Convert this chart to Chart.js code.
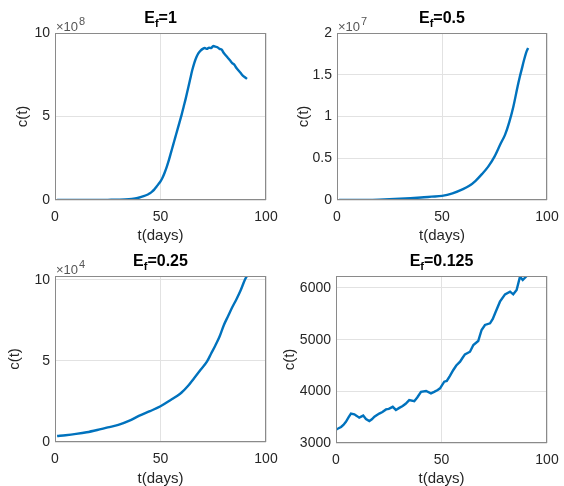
<!DOCTYPE html>
<html>
<head>
<meta charset="utf-8">
<script src="https://cdn.jsdelivr.net/npm/chart.js@4.4.1/dist/chart.umd.min.js"></script>
<style>
  html, body { margin: 0; padding: 0; background: #fff; }
  #wrap { position: relative; width: 564px; height: 486px; overflow: hidden; }
  canvas { position: absolute; }
</style>
</head>
<body>
<div id="wrap">
  <canvas id="p1" width="282" height="243" style="left:0;top:0"></canvas>
  <canvas id="p2" width="282" height="243" style="left:282px;top:0"></canvas>
  <canvas id="p3" width="282" height="243" style="left:0;top:243px"></canvas>
  <canvas id="p4" width="282" height="243" style="left:282px;top:243px"></canvas>
</div>
<script>
// ---------------- DATA ----------------
const xTicks = [0, 50, 100];

// Panel 1: E_f = 1, values in units of 1e8
const t1 = [1, 5, 10, 15, 20, 25, 30, 35, 38, 40, 42, 44, 45, 46, 47, 48, 49, 50, 51, 52, 53, 54, 55, 56, 57, 58, 59, 60, 61, 62, 63, 64, 65, 66, 67, 68, 69, 70, 71, 72, 73, 74, 75, 76, 77, 78, 79, 80, 81, 82, 83, 84, 85, 86, 87, 88, 89, 90, 91];
const c1 = [0.0, 0.0, 0.0, 0.0, 0.0, 0.01, 0.02, 0.05, 0.1, 0.15, 0.23, 0.33, 0.4, 0.5, 0.62, 0.78, 0.95, 1.12, 1.35, 1.65, 2.0, 2.4, 2.85, 3.3, 3.75, 4.2, 4.65, 5.1, 5.6, 6.1, 6.65, 7.2, 7.75, 8.2, 8.55, 8.8, 8.95, 9.05, 9.1, 9.05, 9.12, 9.1, 9.22, 9.18, 9.15, 9.05, 9.0, 8.8, 8.65, 8.5, 8.35, 8.2, 8.1, 7.9, 7.75, 7.6, 7.45, 7.35, 7.25];
const yTicks1 = [0, 5, 10];

// Panel 2: E_f = 0.5, values in units of 1e7
const t2 = [1, 10, 20, 30, 40, 45, 50, 55, 60, 63, 66, 69, 72, 75, 78, 80, 82, 84, 86, 87, 88, 89, 90, 91];
const c2 = [0.0, 0.0, 0.005, 0.015, 0.03, 0.04, 0.05, 0.08, 0.13, 0.17, 0.23, 0.31, 0.4, 0.52, 0.68, 0.78, 0.93, 1.12, 1.36, 1.47, 1.57, 1.67, 1.76, 1.82];
const yTicks2 = [0, 0.5, 1, 1.5, 2];

// Panel 3: E_f = 0.25, values in units of 1e4
const t3 = [1, 5, 10, 15, 20, 25, 30, 35, 40, 45, 50, 55, 58, 60, 63, 66, 69, 72, 74, 76, 78, 80, 82, 84, 86, 88, 90, 91];
const c3 = [0.37, 0.42, 0.5, 0.6, 0.74, 0.9, 1.05, 1.3, 1.62, 1.9, 2.2, 2.6, 2.85, 3.05, 3.45, 3.95, 4.45, 4.95, 5.45, 5.95, 6.5, 7.2, 7.75, 8.3, 8.8, 9.35, 10.0, 10.23];
const yTicks3 = [0, 5, 10];

// Panel 4: E_f = 0.125, raw values
const t4 = [0, 1, 2.4, 3.5, 4.7, 6, 7.1, 8.7, 10, 11, 12.9, 14.2, 15.8, 17, 18.2, 20.5, 22, 23.7, 25, 26.9, 28.4, 30, 31.6, 33, 34.7, 37.1, 38.5, 40.3, 42.7, 45, 46.5, 48.2, 49.3, 51.3, 52.5, 54, 55.6, 57, 58.8, 60, 61.1, 63.5, 65.1, 67.4, 69, 70.6, 73, 74.3, 75.4, 77.7, 80.1, 82.5, 84, 85.6, 87.2, 88.5, 90.4];
const c4 = [3260, 3280, 3310, 3350, 3410, 3500, 3570, 3555, 3520, 3490, 3530, 3465, 3426, 3460, 3510, 3570, 3600, 3650, 3660, 3700, 3640, 3680, 3716, 3760, 3830, 3810, 3880, 3990, 4006, 3961, 3990, 4026, 4058, 4187, 4200, 4300, 4413, 4500, 4574, 4650, 4716, 4767, 4897, 4974, 5187, 5284, 5316, 5400, 5510, 5735, 5877, 5929, 5877, 5961, 6220, 6155, 6232];
const yTicks4 = [3000, 4000, 5000, 6000];

// ---------------- RENDER ----------------
const FONT = "'Liberation Sans', Arial, Helvetica, sans-serif";
const LINE = '#0072BD';

const decoPlugin = {
  id: 'deco',
  afterDraw(chart, args, o) {
    const ctx = chart.ctx;
    const a = chart.chartArea;
    ctx.save();
    // box
    ctx.strokeStyle = '#8a8a8a';
    ctx.lineWidth = 1;
    ctx.strokeRect(Math.round(a.left) + 0.5, Math.round(a.top) + 0.5, Math.round(a.right - a.left) - 1, Math.round(a.bottom - a.top) - 1);
    // title with subscript
    const [main, sub, rest] = o.title;
    ctx.fillStyle = '#000';
    ctx.textBaseline = 'alphabetic';
    ctx.textAlign = 'left';
    const fMain = 'bold 16px ' + FONT, fSub = 'bold 11px ' + FONT;
    ctx.font = fMain; const w1 = ctx.measureText(main).width; const w3 = ctx.measureText(rest).width;
    ctx.font = fSub; const w2 = ctx.measureText(sub).width;
    const total = w1 + w2 + w3;
    let x = (a.left + a.right) / 2 - total / 2;
    const by = a.top - 10;
    ctx.font = fMain; ctx.fillText(main, x, by); x += w1;
    ctx.font = fSub; ctx.fillText(sub, x, by + 4); x += w2;
    ctx.font = fMain; ctx.fillText(rest, x, by);
    // exponent
    if (o.exp) {
      ctx.fillStyle = '#555';
      ctx.font = '13px ' + FONT;
      const ex = a.left + 1, ey = a.top - 2;
      ctx.fillText('\u00d710', ex, ey);
      const wx = ctx.measureText('\u00d710').width;
      ctx.font = '11px ' + FONT;
      ctx.fillText(o.exp, ex + wx + 1, ey - 6);
    }
    ctx.restore();
  }
};

function makePanel(id, t, c, yTicks, yMin, yMax, deco, lay, smooth) {
  const pts = t.map((v, i) => ({ x: v, y: c[i] }));
  new Chart(document.getElementById(id), {
    type: 'line',
    data: { datasets: [{ data: pts, borderColor: LINE, borderWidth: 2.4, pointRadius: 0, fill: false,
      tension: smooth ? 0.4 : 0, cubicInterpolationMode: smooth ? 'monotone' : 'default' }] },
    options: {
      responsive: false, animation: false,
      layout: { padding: { top: lay.top, right: lay.right, left: 0, bottom: 0 } },
      plugins: { legend: { display: false }, tooltip: { enabled: false }, deco: deco },
      scales: {
        x: {
          type: 'linear', min: 0, max: 100,
          afterBuildTicks: s => { s.ticks = xTicks.map(v => ({ value: v })); },
          afterFit: s => { s.height = lay.xh; s.paddingLeft = 0; s.paddingRight = 0; },
          grid: { color: '#e2e2e2', drawTicks: false },
          border: { display: false },
          ticks: { color: '#262626', font: { family: FONT, size: 14 }, padding: 9, maxRotation: 0, callback: v => String(v) },
          title: { display: true, text: 't(days)', color: '#262626', font: { family: FONT, size: 15, lineHeight: 1 }, padding: { top: 0, bottom: 0 } }
        },
        y: {
          type: 'linear', min: yMin, max: yMax,
          afterBuildTicks: s => { s.ticks = yTicks.map(v => ({ value: v })); },
          afterFit: s => { s.width = lay.yw; s.paddingTop = 0; s.paddingBottom = 0; },
          grid: { color: '#e2e2e2', drawTicks: false },
          border: { display: false },
          ticks: { color: '#262626', font: { family: FONT, size: 14 }, padding: 5, callback: v => String(v) },
          title: { display: true, text: 'c(t)', color: '#262626', font: { family: FONT, size: 15, lineHeight: 1 }, padding: { top: lay.ytp, bottom: 0 } }
        }
      }
    },
    plugins: [decoPlugin]
  });
}

makePanel('p1', t1, c1, yTicks1, 0, 10, { title: ['E', 'f', '=1'], exp: '8' },
  { top: 33, right: 16, xh: 43, yw: 55, ytp: 15.5 }, true);
makePanel('p2', t2, c2, yTicks2, 0, 2, { title: ['E', 'f', '=0.5'], exp: '7' },
  { top: 33, right: 17, xh: 43, yw: 55, ytp: 14.5 }, true);
makePanel('p3', t3, c3, yTicks3, 0, 10.23, { title: ['E', 'f', '=0.25'], exp: '4' },
  { top: 33, right: 16, xh: 44, yw: 55, ytp: 7.5 }, true);
makePanel('p4', t4, c4, yTicks4, 3000, 6232, { title: ['E', 'f', '=0.125'], exp: null },
  { top: 33, right: 17, xh: 43, yw: 54, ytp: 0 }, false);
</script>
</body>
</html>
